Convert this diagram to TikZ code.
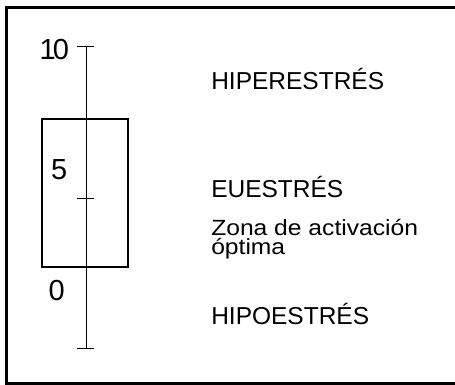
\documentclass[tikz,border=0pt]{standalone}
\usepackage{fontspec}
\setmainfont{Liberation Sans}
\usepackage{tikz}

\tikzset{
  zona/.style={anchor=base west,inner sep=0.75pt,font=\fontsize{24.5}{29}\selectfont},
  nivel/.style={anchor=base west,inner sep=0pt,font=\fontsize{29}{34}\selectfont},
  marca/.style={line width=1pt}
}

\begin{document}
\begin{tikzpicture}[x=1pt,y=1pt,yscale=-1,xscale=1]
\useasboundingbox (0,0) rectangle (455,385);

%Shape: Frame
\draw [line width=2.5pt] (456.5,7.5) -- (6.5,7.5) -- (6.5,383.5) -- (456.5,383.5) ;
%Shape: Rectangle (zona optima)
\draw [line width=1.2pt] (42,119) rectangle (128,267) ;
%Shape: Axis
\draw [marca] (86,47) -- (86,348) ;
\draw [marca] (77,47) -- (94,47) ;
\draw [marca] (77,198) -- (94,198) ;
\draw [marca] (77,348) -- (94,348) ;

% Text Node
\node [nivel] (diez) at (39.5,59.3) {1\kern-3pt0};
% Text Node
\node [nivel] (cinco) at (51,179) {5};
% Text Node
\node [nivel] (cero) at (48.5,300) {0};

% Text Node
\node [zona] (hiper) at (210.3,89.3) {HIPERESTRÉS};
% Text Node
\node [zona] (eu) at (210.3,197.3) {EUESTRÉS};
% Text Node
\node [anchor=base west,inner sep=0.75pt,align=left,font=\fontsize{22}{19}\selectfont\addfontfeature{FakeStretch=1.12}] (activ) at (210.3,254) {Zona de activación\\óptima};
% Text Node
\node [zona] (hipo) at (210.3,324.3) {HIPOESTRÉS};

\end{tikzpicture}
\end{document}
